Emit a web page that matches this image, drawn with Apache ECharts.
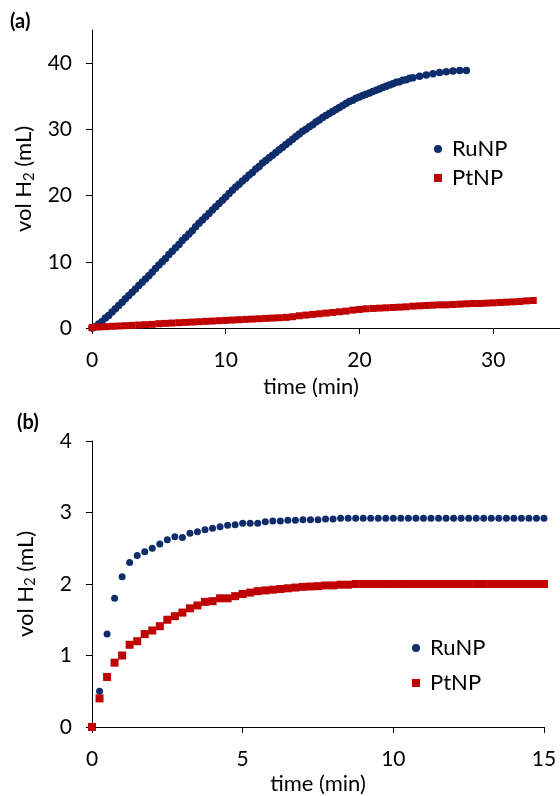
<!DOCTYPE html>
<html>
<head>
<meta charset="utf-8">
<script src="https://cdn.jsdelivr.net/npm/echarts@6/dist/echarts.min.js"></script>
<style>
  html, body { margin: 0; padding: 0; background: #fff; }
  #h2-pic { width: 560px; height: 796px; }
</style>
</head>
<body>
<div id="h2-pic"></div>
<script>
// panel (a): time (min) and vol H2 (mL)
const timeRuA = [0, 0.25, 0.5, 0.75, 1, 1.25, 1.5, 1.75, 2, 2.25, 2.5, 2.75, 3, 3.25, 3.5, 3.75, 4, 4.25, 4.5, 4.75,
  5, 5.25, 5.5, 5.75, 6, 6.25, 6.5, 6.75, 7, 7.25, 7.5, 7.75, 8, 8.25, 8.5, 8.75, 9, 9.25, 9.5, 9.75,
  10, 10.25, 10.5, 10.75, 11, 11.25, 11.5, 11.75, 12, 12.25, 12.5, 12.75, 13, 13.25, 13.5, 13.75, 14, 14.25, 14.5, 14.75,
  15, 15.25, 15.5, 15.75, 16, 16.25, 16.5, 16.75, 17, 17.25, 17.5, 17.75, 18, 18.25, 18.5, 18.75, 19, 19.25, 19.5, 19.75,
  20, 20.25, 20.5, 20.75, 21, 21.25, 21.5, 21.75, 22, 22.25, 22.5, 22.75, 23, 23.25, 23.5, 23.75, 24,
  24.5, 25, 25.5, 26, 26.5, 27, 27.5, 28]
const ruA = [0, 0.2, 0.6, 1.0, 1.5, 1.9, 2.4, 2.9, 3.4, 3.9, 4.4, 4.9, 5.4, 5.9, 6.4, 6.9, 7.4, 7.9, 8.4, 9.0,
  9.5, 10.0, 10.5, 11.1, 11.6, 12.1, 12.6, 13.2, 13.7, 14.2, 14.7, 15.3, 15.8, 16.3, 16.8, 17.3, 17.8, 18.3, 18.8, 19.3,
  19.8, 20.3, 20.8, 21.3, 21.7, 22.2, 22.6, 23.1, 23.5, 24.0, 24.4, 24.9, 25.3, 25.7, 26.1, 26.5, 26.9, 27.3, 27.7, 28.1,
  28.5, 28.9, 29.3, 29.7, 30.0, 30.4, 30.7, 31.1, 31.4, 31.8, 32.1, 32.4, 32.7, 33.0, 33.3, 33.6, 33.9, 34.2, 34.4, 34.7,
  34.9, 35.1, 35.3, 35.5, 35.7, 35.9, 36.1, 36.3, 36.5, 36.7, 36.9, 37.1, 37.2, 37.4, 37.5, 37.7, 37.8,
  38.0, 38.2, 38.4, 38.6, 38.7, 38.8, 38.9, 38.9]
const timePtA = [0, 0.5, 1, 1.5, 2, 2.5, 3, 3.5, 4, 4.5, 5, 5.5, 6, 6.5, 7, 7.5, 8, 8.5, 9, 9.5,
  10, 10.5, 11, 11.5, 12, 12.5, 13, 13.5, 14, 14.5, 15, 15.5, 16, 16.5, 17, 17.5, 18, 18.5, 19, 19.5,
  20, 20.5, 21, 21.5, 22, 22.5, 23, 23.5, 24, 24.5, 25, 25.5, 26, 26.5, 27, 27.5, 28, 28.5, 29, 29.5,
  30, 30.5, 31, 31.5, 32, 32.5, 33]
const ptA = [0.05, 0.15, 0.2, 0.25, 0.3, 0.35, 0.4, 0.45, 0.5, 0.55, 0.65, 0.7, 0.75, 0.8, 0.85, 0.9, 0.95, 1.0, 1.05, 1.1,
  1.15, 1.2, 1.25, 1.3, 1.35, 1.4, 1.45, 1.5, 1.55, 1.6, 1.7, 1.85, 1.95, 2.05, 2.15, 2.25, 2.35, 2.45, 2.55, 2.7,
  2.8, 2.9, 2.95, 3.0, 3.05, 3.1, 3.15, 3.2, 3.3, 3.35, 3.4, 3.45, 3.5, 3.5, 3.55, 3.6, 3.65, 3.7, 3.7, 3.75,
  3.8, 3.85, 3.9, 3.95, 4.0, 4.1, 4.15]

// panel (b)
const timeB = [0, 0.25, 0.5, 0.75, 1, 1.25, 1.5, 1.75, 2, 2.25, 2.5, 2.75, 3, 3.25, 3.5, 3.75, 4, 4.25, 4.5, 4.75,
  5, 5.25, 5.5, 5.75, 6, 6.25, 6.5, 6.75, 7, 7.25, 7.5, 7.75, 8, 8.25, 8.5, 8.75, 9, 9.25, 9.5, 9.75,
  10, 10.25, 10.5, 10.75, 11, 11.25, 11.5, 11.75, 12, 12.25, 12.5, 12.75, 13, 13.25, 13.5, 13.75, 14, 14.25, 14.5, 14.75,
  15]
const ruB = [0, 0.5, 1.3, 1.8, 2.1, 2.3, 2.4, 2.45, 2.5, 2.56, 2.62, 2.66, 2.65, 2.71, 2.73, 2.76, 2.78, 2.8, 2.82, 2.83,
  2.85, 2.85, 2.85, 2.87, 2.88, 2.88, 2.89, 2.89, 2.9, 2.9, 2.9, 2.91, 2.91, 2.92, 2.92, 2.92, 2.92, 2.92, 2.92, 2.92,
  2.92, 2.92, 2.92, 2.92, 2.92, 2.92, 2.92, 2.92, 2.92, 2.92, 2.92, 2.92, 2.92, 2.92, 2.92, 2.92, 2.92, 2.92, 2.92, 2.92,
  2.92]
const ptB = [0, 0.4, 0.7, 0.9, 1.0, 1.15, 1.2, 1.3, 1.35, 1.41, 1.5, 1.55, 1.6, 1.66, 1.7, 1.75, 1.76, 1.8, 1.8, 1.83,
  1.86, 1.88, 1.9, 1.91, 1.92, 1.93, 1.94, 1.95, 1.96, 1.965, 1.97, 1.98, 1.98, 1.99, 1.99, 2.0, 2.0, 2.0, 2.0, 2.0,
  2.0, 2.0, 2.0, 2.0, 2.0, 2.0, 2.0, 2.0, 2.0, 2.0, 2.0, 2.0, 2.0, 2.0, 2.0, 2.0, 2.0, 2.0, 2.0, 2.0,
  2.0]

const ticksYA = [0, 10, 20, 30, 40]
const ticksXA = [0, 10, 20, 30]

const BLUE = '#102d6b'
const RED = '#c00000'
const FONT = 'Lato, "Open Sans", sans-serif'
// square legend icon, keeps its aspect inside the wider item box
const SQUARE = 'path://M0,0L10,0L10,10L0,10Z'

function zip (xs, ys) {
  return xs.map((x, i) => [x, ys[i]])
}

function yAxis (gridIndex, max, interval, custom) {
  const axis = {
    gridIndex: gridIndex,
    type: 'value',
    min: 0,
    max: max,
    interval: interval,
    name: 'vol H{sub|2} (mL)',
    nameLocation: 'middle',
    nameGap: 54,
    nameTextStyle: {
      fontFamily: FONT,
      fontSize: 22,
      color: '#000',
      rich: {
        sub: { fontFamily: FONT, fontSize: 15, color: '#000', padding: [10, 0, 0, 0] }
      }
    },
    splitLine: { show: false },
    axisLine: { show: true, lineStyle: { color: '#000', width: 1 } },
    axisTick: { show: true, length: 6, lineStyle: { color: '#000' } },
    axisLabel: { color: '#000', fontFamily: FONT, fontSize: 21, margin: 20 }
  }
  if (custom)
  {
    axis.axisTick.customValues = custom
    axis.axisLabel.customValues = custom
  }
  return axis
}

function xAxis (gridIndex, max, interval, nameGap, namePad, custom) {
  const axis = {
    gridIndex: gridIndex,
    type: 'value',
    min: 0,
    max: max,
    interval: interval,
    name: 'time (min)',
    nameLocation: 'middle',
    nameGap: nameGap,
    nameTextStyle: { fontFamily: FONT, fontSize: 22, color: '#000', padding: namePad },
    splitLine: { show: false },
    axisLine: { show: true, onZero: false, lineStyle: { color: '#000', width: 1 } },
    axisTick: { show: true, length: 6, lineStyle: { color: '#000' } },
    axisLabel: { color: '#000', fontFamily: FONT, fontSize: 21, margin: 22 }
  }
  if (custom)
  {
    axis.axisTick.customValues = custom
    axis.axisLabel.customValues = custom
  }
  return axis
}

function legend (left, top, gap) {
  return {
    left: left,
    top: top,
    orient: 'vertical',
    padding: 0,
    itemWidth: 18,
    itemHeight: 8,
    itemGap: gap,
    symbolKeepAspect: true,
    textStyle: { fontFamily: FONT, fontSize: 22, color: '#000', lineHeight: 22 },
    data: [
      { name: 'RuNP', icon: 'circle' },
      { name: 'PtNP', icon: SQUARE }
    ]
  }
}

function initOption () {
  return {
    animation: false,
    backgroundColor: '#fff',
    title: [
      { text: '(a)', left: 10, top: 12, padding: 0, textStyle: { fontFamily: FONT, fontSize: 20, fontWeight: 'bold', color: '#000' } },
      { text: '(b)', left: 17, top: 413, padding: 0, textStyle: { fontFamily: FONT, fontSize: 20, fontWeight: 'bold', color: '#000' } }
    ],
    legend: [
      legend(434, 138, 7),
      legend(412, 637, 13)
    ],
    grid: [
      { left: 92, top: 30, width: 471, height: 298 },
      { left: 92, top: 441, width: 452, height: 295 }
    ],
    xAxis: [
      xAxis(0, 35, 10, 48, [0, 30, 0, 0], ticksXA),
      xAxis(1, 15, 5, 46, 0)
    ],
    yAxis: [
      yAxis(0, 45, 10, ticksYA),
      yAxis(1, 4, 1)
    ],
    series: [
      {
        name: 'RuNP', type: 'scatter', xAxisIndex: 0, yAxisIndex: 0,
        symbol: 'circle', symbolSize: 7.5, itemStyle: { color: BLUE, opacity: 1 },
        data: zip(timeRuA, ruA)
      },
      {
        name: 'PtNP', type: 'scatter', xAxisIndex: 0, yAxisIndex: 0,
        symbol: 'rect', symbolSize: 7, itemStyle: { color: RED, opacity: 1 },
        data: zip(timePtA, ptA)
      },
      {
        name: 'RuNP', type: 'scatter', xAxisIndex: 1, yAxisIndex: 1,
        symbol: 'circle', symbolSize: 7, itemStyle: { color: BLUE, opacity: 1 },
        data: zip(timeB, ruB)
      },
      {
        name: 'PtNP', type: 'scatter', xAxisIndex: 1, yAxisIndex: 1,
        symbol: 'rect', symbolSize: 8, itemStyle: { color: RED, opacity: 1 },
        data: zip(timeB, ptB)
      }
    ]
  }
}

const myChart = echarts.init(document.getElementById('h2-pic'))
myChart.setOption(initOption())
</script>
</body>
</html>
